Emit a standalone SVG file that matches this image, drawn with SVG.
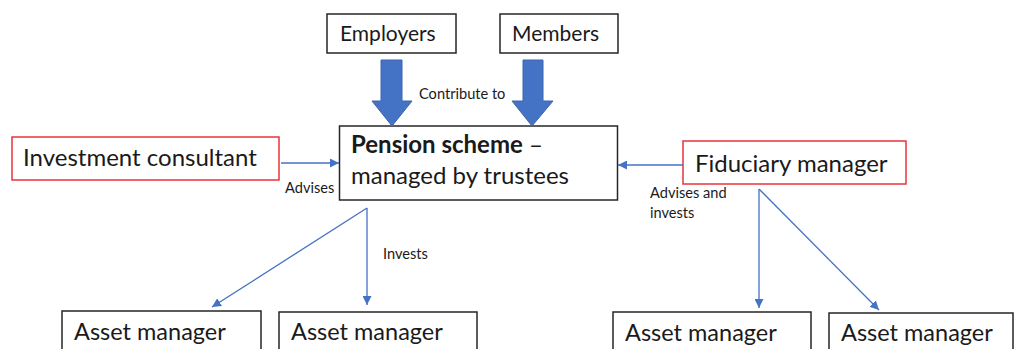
<svg xmlns="http://www.w3.org/2000/svg" width="1014" height="349" viewBox="0 0 1014 349">
<defs>
<marker id="ah" viewBox="0 0 10 10" refX="10" refY="5" markerWidth="9" markerHeight="9" markerUnits="userSpaceOnUse" orient="auto">
<path d="M0,0 L10,5 L0,10 z" fill="#4472C4"/>
</marker>
<style>
.box{fill:#fff;stroke:#262626;stroke-width:1.5}
.rbox{fill:#fff;stroke:#E8353B;stroke-width:1.5}
.t{font-family:Lato,"Open Sans",sans-serif;fill:#1a1a1a}
.big{font-size:24px}
.am{font-size:23.5px}
.top{font-size:21px}
.small{font-size:14.6px}
.conn{stroke:#4472C4;stroke-width:1.3;fill:none;marker-end:url(#ah)}
.block{fill:#4472C4;stroke:#3A64AE;stroke-width:1}
</style>
</defs>
<rect width="1014" height="349" fill="#fff"/>
<g id="employers">
<rect class="box" x="327" y="14" width="129" height="39"/>
<text class="t top" x="340" y="41">Employers</text>
</g>
<g id="members">
<rect class="box" x="500" y="14" width="118" height="39"/>
<text class="t top" x="512" y="41">Members</text>
</g>
<g id="pension">
<rect class="box" x="339.5" y="126" width="278" height="74"/>
<text class="t big" x="351" y="153"><tspan font-weight="bold">Pension scheme</tspan> –</text>
<text class="t big" x="351" y="184">managed by trustees</text>
</g>
<g id="consultant">
<rect class="rbox" x="12" y="137" width="267" height="43"/>
<text class="t big" x="23" y="166">Investment consultant</text>
</g>
<g id="fiduciary">
<rect class="rbox" x="683" y="141" width="223" height="43"/>
<text class="t big" x="695" y="172">Fiduciary manager</text>
</g>
<g id="am1">
<rect class="box" x="62" y="311" width="199" height="50"/>
<text class="t am" x="74" y="340">Asset manager</text>
</g>
<g id="am2">
<rect class="box" x="279" y="312" width="198" height="50"/>
<text class="t am" x="291" y="340">Asset manager</text>
</g>
<g id="am3">
<rect class="box" x="613" y="312" width="198" height="50"/>
<text class="t am" x="625" y="341">Asset manager</text>
</g>
<g id="am4">
<rect class="box" x="829" y="313" width="184" height="50"/>
<text class="t am" x="841" y="341">Asset manager</text>
</g>
<g id="connectors">
<polygon class="block" points="381,60 402,60 402,101 412,101 392,126 372,101 381,101"/>
<polygon class="block" points="523,60 543,60 543,101 553,101 532,126 512,101 523,101"/>
<line class="conn" x1="281" y1="163" x2="339" y2="163"/>
<line class="conn" x1="683" y1="165" x2="618" y2="165"/>
<line class="conn" x1="367" y1="208" x2="367" y2="305"/>
<line class="conn" x1="367" y1="208" x2="212" y2="307"/>
<line class="conn" x1="759" y1="189" x2="759" y2="308"/>
<line class="conn" x1="759" y1="189" x2="879" y2="310"/>
<text class="t small" x="419" y="99">Contribute to</text>
<text class="t small" x="285" y="193">Advises</text>
<text class="t small" x="383" y="259">Invests</text>
<text class="t small" x="650" y="198">Advises and</text>
<text class="t small" x="650" y="218">invests</text>
</g>
</svg>
